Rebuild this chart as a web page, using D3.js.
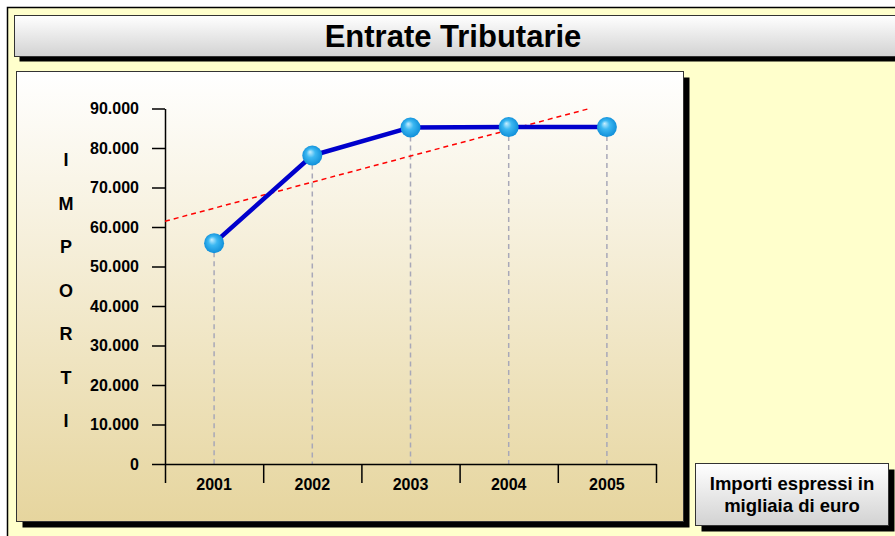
<!DOCTYPE html>
<html>
<head>
    <meta charset="UTF-8">
    <title>Entrate Tributarie</title>
    <style>
        body { margin: 0; background: #fff; }
        text { font-family: "Liberation Sans", Arial, sans-serif; font-weight: bold; }
    </style>
</head>
<body>
    <div id="chart"></div>

    <script src="https://d3js.org/d3.v7.min.js"></script>
    <script>
        // dati
        var years = ["2001", "2002", "2003", "2004", "2005"];
        var importi = [55900, 78100, 85200, 85300, 85300];
        var yTicks = [0, 10000, 20000, 30000, 40000, 50000, 60000, 70000, 80000, 90000];
        var yLetters = ["I", "M", "P", "O", "R", "T", "I"];
        var title = "Entrate Tributarie";
        var note = ["Importi espressi in", "migliaia di euro"];

        var width = 895;
        var height = 536;

        var it = d3.formatLocale({ decimal: ",", thousands: ".", grouping: [3], currency: ["€", ""] });
        var fmt = it.format(",");

        var svg = d3.select("#chart")
            .append("svg")
            .attr("width", width)
            .attr("height", height);

        var defs = svg.append("defs");

        function vgrad(id, c0, c1) {
            var g = defs.append("linearGradient").attr("id", id)
                .attr("x1", 0).attr("y1", 0).attr("x2", 0).attr("y2", 1);
            g.append("stop").attr("offset", "0%").attr("stop-color", c0);
            g.append("stop").attr("offset", "100%").attr("stop-color", c1);
        }
        vgrad("panel", "#ffffff", "#e6d59e");
        vgrad("box", "#ffffff", "#d2d2d2");

        var ball = defs.append("radialGradient").attr("id", "ball")
            .attr("cx", "50%").attr("cy", "50%").attr("r", "55%")
            .attr("fx", "38%").attr("fy", "32%");
        ball.append("stop").attr("offset", "0%").attr("stop-color", "#c8efff");
        ball.append("stop").attr("offset", "40%").attr("stop-color", "#3cb8f2");
        ball.append("stop").attr("offset", "100%").attr("stop-color", "#0a8ad6");

        // sfondo e cornice
        svg.append("rect")
            .attr("x", 7.5).attr("y", 7.5)
            .attr("width", width + 10).attr("height", height + 10)
            .style("fill", "#ffffcc")
            .style("stroke", "#000")
            .style("stroke-width", 1.5);

        // riquadro con ombra
        function box(x, y, w, h, off, fill) {
            svg.append("rect")
                .attr("x", x + off).attr("y", y + off)
                .attr("width", w).attr("height", h)
                .style("fill", "#000");
            svg.append("rect")
                .attr("x", x).attr("y", y)
                .attr("width", w).attr("height", h)
                .style("fill", fill)
                .style("stroke", "#333")
                .style("stroke-width", 1);
        }

        // titolo
        box(14.5, 15.5, 900, 41, 5, "url(#box)");
        svg.append("text")
            .attr("x", 453).attr("y", 36)
            .attr("dy", "0.36em")
            .attr("text-anchor", "middle")
            .style("font-size", "31px")
            .style("fill", "#000")
            .text(title);

        // pannello del grafico
        box(16.5, 71.5, 667, 450, 6, "url(#panel)");

        // nota
        box(695.5, 463.5, 193, 62, 6, "url(#box)");
        svg.append("g").selectAll("text")
            .data(note)
            .enter()
            .append("text")
            .attr("x", 792)
            .attr("y", function (d, i) { return 483 + i * 22; })
            .attr("dy", "0.36em")
            .attr("text-anchor", "middle")
            .style("font-size", "18.5px")
            .style("fill", "#000")
            .text(function (d) { return d; });

        // scale
        var x = d3.scaleBand().domain(years).range([165, 656]);
        var xi = d3.scaleLinear().domain([-0.5, years.length - 0.5]).range([165, 656]);
        var y = d3.scaleLinear().domain([0, 90000]).range([464, 108.5]);

        function cx(d, i) { return x(years[i]) + x.bandwidth() / 2; }

        // linee tratteggiate verticali
        svg.append("g").selectAll("line")
            .data(importi)
            .enter()
            .append("line")
            .attr("x1", cx).attr("x2", cx)
            .attr("y1", function (d) { return y(d); })
            .attr("y2", y(0))
            .style("stroke", "#a8a8b8")
            .style("stroke-width", 1.5)
            .style("stroke-dasharray", "5,4");

        // asse Y
        var yAxis = svg.append("g")
            .attr("transform", "translate(165,0)")
            .call(d3.axisLeft(y).tickValues(yTicks).tickSize(13).tickSizeOuter(0).tickPadding(13).tickFormat(fmt));
        yAxis.selectAll("path, line").style("stroke", "#000").style("stroke-width", 1.5);
        yAxis.selectAll("text").style("font-size", "16px").style("font-family", "'Liberation Sans', Arial, sans-serif").style("font-weight", "bold").style("fill", "#000");

        // asse X: etichette
        var xAxis = svg.append("g")
            .attr("transform", "translate(0,464)")
            .call(d3.axisBottom(x).tickSize(0).tickSizeOuter(0).tickPadding(15));
        xAxis.selectAll("path").style("stroke", "#000").style("stroke-width", 1.5);
        xAxis.selectAll("text").style("font-size", "16px").style("font-family", "'Liberation Sans', Arial, sans-serif").style("font-weight", "bold").style("fill", "#000");

        // asse X: tacche ai bordi delle categorie
        var xTicks = svg.append("g")
            .attr("transform", "translate(0,464)")
            .call(d3.axisBottom(xi).tickValues(d3.range(-0.5, years.length)).tickSize(19).tickFormat(""));
        xTicks.select(".domain").remove();
        xTicks.selectAll("line").style("stroke", "#000").style("stroke-width", 1.5);

        // lettere verticali
        svg.append("g").selectAll("text")
            .data(yLetters)
            .enter()
            .append("text")
            .attr("x", 66)
            .attr("y", function (d, i) { return 160 + i * 43.5; })
            .attr("dy", "0.36em")
            .attr("text-anchor", "middle")
            .style("font-size", "18px")
            .style("fill", "#000")
            .text(function (d) { return d; });

        // linea di tendenza (regressione lineare)
        var idx = d3.range(importi.length);
        var mx = d3.mean(idx), my = d3.mean(importi);
        var slope = d3.sum(idx, function (i) { return (i - mx) * (importi[i] - my); }) /
            d3.sum(idx, function (i) { return (i - mx) * (i - mx); });
        var icpt = my - slope * mx;
        var tEnd = Math.min(years.length - 0.5, (y.domain()[1] - icpt) / slope);
        var trend = [-0.5, tEnd];

        svg.append("path")
            .datum(trend)
            .attr("d", d3.line()
                .x(function (t) { return xi(t); })
                .y(function (t) { return y(icpt + slope * t); }))
            .style("fill", "none")
            .style("stroke", "#ff0000")
            .style("stroke-width", 1.5)
            .style("stroke-dasharray", "5,4");

        // serie
        svg.append("path")
            .datum(importi)
            .attr("d", d3.line()
                .x(cx)
                .y(function (d) { return y(d); }))
            .style("fill", "none")
            .style("stroke", "#0000cc")
            .style("stroke-width", 4.5)
            .style("stroke-linejoin", "round");

        svg.append("g").selectAll("circle")
            .data(importi)
            .enter()
            .append("circle")
            .attr("cx", cx)
            .attr("cy", function (d) { return y(d); })
            .attr("r", 10)
            .style("fill", "url(#ball)");
    </script>
</body>
</html>
